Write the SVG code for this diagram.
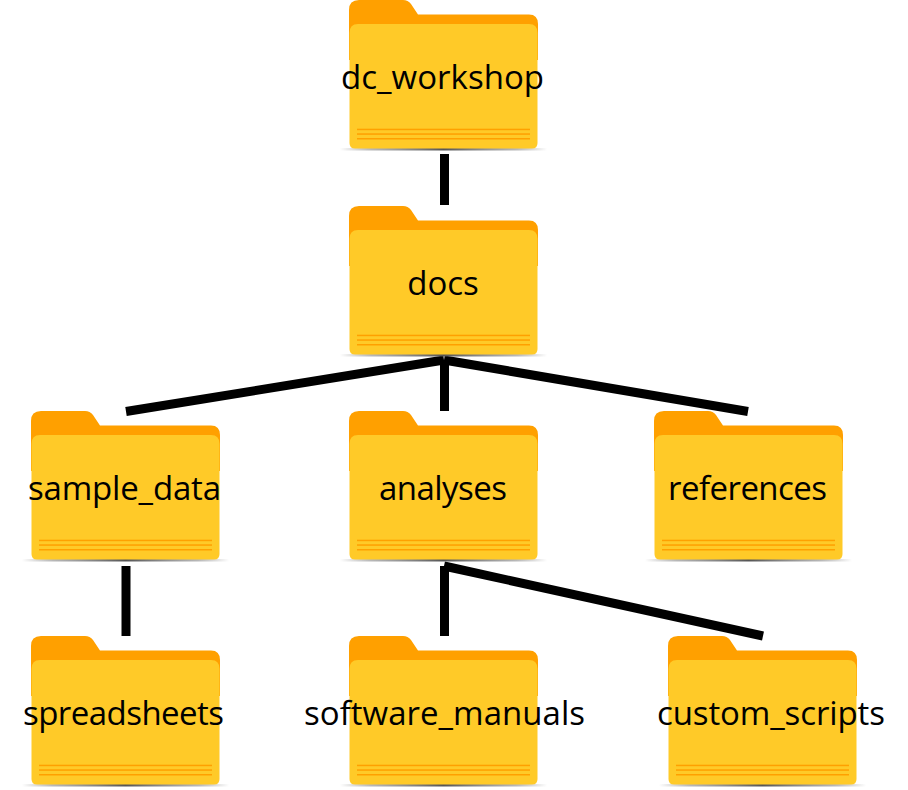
<svg xmlns="http://www.w3.org/2000/svg" width="908" height="790" viewBox="0 0 908 790">
<style>
.lbl{font-family:"Open Sans","Noto Sans","Liberation Sans",sans-serif;font-size:33px;fill:#000;text-anchor:middle}
.conn{stroke:#000;stroke-width:9;fill:none}
.stripe{fill:#ffa000}
</style>
<defs>
<linearGradient id="sh" x1="0" x2="1" y1="0" y2="0">
<stop offset="0" stop-color="#888" stop-opacity="0"/>
<stop offset=".15" stop-color="#999" stop-opacity=".7"/>
<stop offset=".5" stop-color="#555"/>
<stop offset=".85" stop-color="#999" stop-opacity=".7"/>
<stop offset="1" stop-color="#888" stop-opacity="0"/>
</linearGradient>
<g id="folder">
<rect x="-9" y="148" width="207" height="2.500" fill="url(#sh)"/>
<path d="M0 60V10Q0 0 10 0H54Q59 0 62 4L69 14.500H180Q189 14.500 189 24V60Z" fill="#ffa000"/>
<path d="M0.500 33Q0.500 24 9 24H180Q188.500 24 188.500 33V143Q188.500 148.500 183 148.500H6Q0.500 148.500 0.500 143Z" fill="#ffca28"/>
<rect class="stripe" x="8" y="128.700" width="173" height="1.500"/>
<rect class="stripe" x="8" y="133.300" width="173" height="1.500"/>
<rect class="stripe" x="8" y="138" width="173" height="1.500"/>
</g>
</defs>
<rect width="908" height="790" fill="#fff"/>
<g id="connectors">
<line class="conn" x1="444.500" y1="154" x2="444.500" y2="205"/>
<line class="conn" x1="444" y1="360" x2="126" y2="411.500"/>
<line class="conn" x1="444.500" y1="360" x2="444.500" y2="411"/>
<line class="conn" x1="444" y1="360" x2="748" y2="411.500"/>
<line class="conn" x1="126" y1="566" x2="126" y2="636"/>
<line class="conn" x1="444.500" y1="566" x2="444.500" y2="636"/>
<line class="conn" x1="444" y1="566" x2="763" y2="636"/>
</g>
<g id="dc_workshop"><use href="#folder" x="349" y="0"/><text class="lbl" x="442.500" y="89" textLength="203">dc_workshop</text></g>
<g id="docs"><use href="#folder" x="349" y="206"/><text class="lbl" x="443" y="295">docs</text></g>
<g id="sample_data"><use href="#folder" x="31" y="411"/><text class="lbl" x="124.500" y="500" textLength="193">sample_data</text></g>
<g id="analyses"><use href="#folder" x="349" y="411"/><text class="lbl" x="443" y="500" textLength="128">analyses</text></g>
<g id="references"><use href="#folder" x="654" y="411"/><text class="lbl" x="747.500" y="500" textLength="159">references</text></g>
<g id="spreadsheets"><use href="#folder" x="31" y="636"/><text class="lbl" x="123.500" y="725" textLength="201">spreadsheets</text></g>
<g id="software_manuals"><use href="#folder" x="349" y="636"/><text class="lbl" x="444.500" y="725" textLength="281">software_manuals</text></g>
<g id="custom_scripts"><use href="#folder" x="668" y="636"/><text class="lbl" x="771" y="725" textLength="228">custom_scripts</text></g>
</svg>
